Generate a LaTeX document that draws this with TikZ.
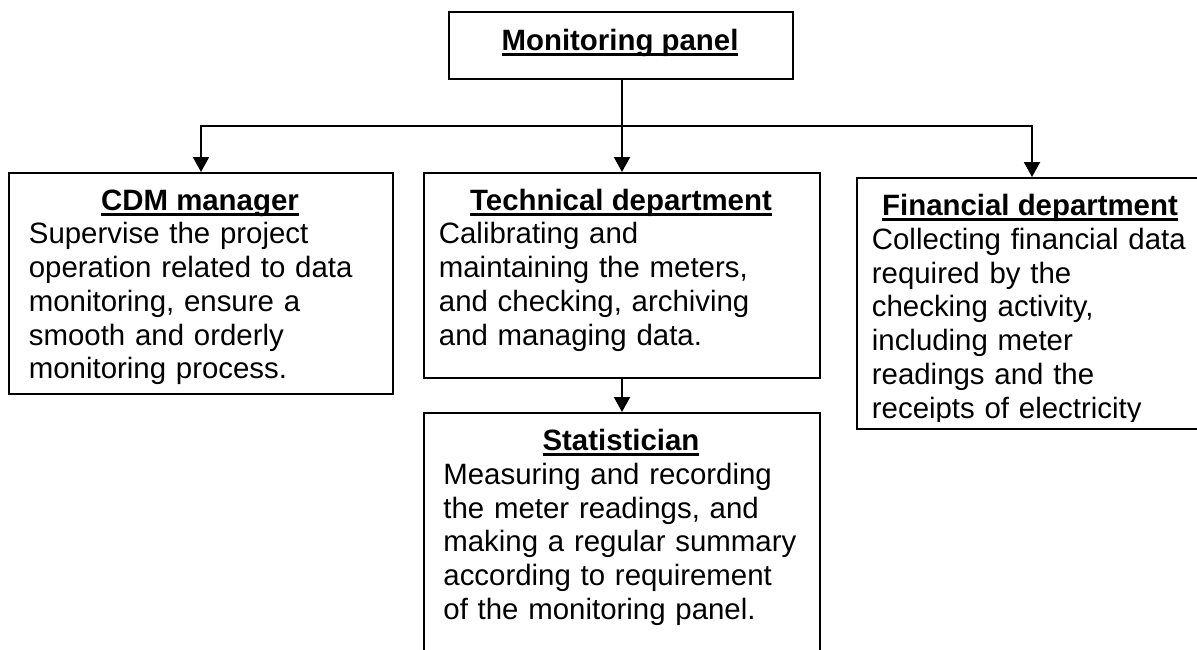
\documentclass[tikz,border=0pt]{standalone}
\usepackage{fontspec}
\setmainfont{Liberation Sans}
\usetikzlibrary{arrows.meta}
\newcommand\ulhead[1]{\setbox0\hbox{\bfseries #1}\rlap{\rule[-3.1pt]{\wd0}{1.6pt}}\box0}
\begin{document}
\begin{tikzpicture}[x=0.5pt,y=-0.5pt,
  box/.style={draw,line width=1pt,rectangle,anchor=north west,inner sep=0pt},
  head/.style={anchor=base,inner sep=0pt,font=\fontsize{14.7}{16.9}\selectfont},
  body/.style={anchor=north west,inner sep=0pt,text width=200pt,align=left,
    font=\fontsize{14.7}{16.9}\selectfont},
  conn/.style={line width=1pt,-{Triangle[width=8pt,length=7.5pt]}}]
\clip (0,0) rectangle (1197,649);
% boxes
\node[box,minimum width=172pt,minimum height=33.5pt] (top) at (448,11) {};
\node[box,minimum width=192pt,minimum height=110.5pt] (cdm) at (8,172) {};
\node[box,minimum width=198pt,minimum height=102.5pt] (tech) at (423,172) {};
\node[box,minimum width=198pt,minimum height=154pt] (stat) at (423,412) {};
\node[box,minimum width=175pt,minimum height=125.5pt] (fin) at (856,177) {};
% texts
\node[head] (tophead) at (620,50) {\ulhead{Monitoring panel}};
\begin{scope}
\clip (8,172) rectangle (392,385);
\node[head] (cdmhead) at (200,210) {\ulhead{CDM manager}};
\node[body] (cdmbody) at (28.5,219.6) {\strut Supervise the project\\operation related to data\\monitoring, ensure a\\smooth and orderly\\monitoring process.};
\end{scope}
\begin{scope}
\clip (423,172) rectangle (819,372);
\node[head] (techhead) at (621,210) {\ulhead{Technical department}};
\node[body] (techbody) at (438.5,219.6) {\strut Calibrating and\\maintaining the meters,\\and checking, archiving\\and managing data.};
\end{scope}
\begin{scope}
\clip (856,177) rectangle (1206,421);
\node[head] (finhead) at (1030,215) {\ulhead{Financial department}};
\node[body] (finbody) at (871.5,225.3) {\strut Collecting financial data\\required by the\\checking activity,\\including meter\\readings and the\\receipts of electricity};
\end{scope}
\node[head] (stathead) at (621,450) {\ulhead{Statistician}};
\node[body] (statbody) at (443,460.3) {\strut Measuring and recording\\the meter readings, and\\making a regular summary\\according to requirement\\of the monitoring panel.};
% connectors
\coordinate (bus) at (622,126);
\draw[conn] (top.south -| bus) -- (bus -| tech.north) -- (tech.north);
\draw[conn] (bus) -| (cdm.north);
\draw[conn] (bus) -| (fin.north);
\draw[conn] (tech.south) -- (stat.north);
\end{tikzpicture}
\end{document}
